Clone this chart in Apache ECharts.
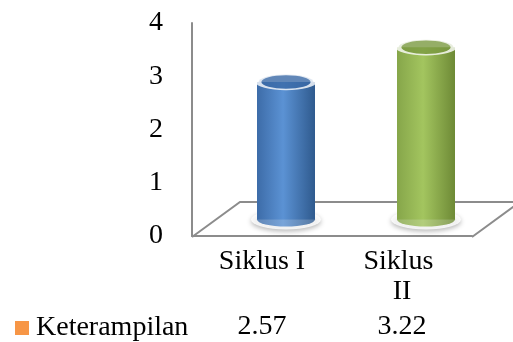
<!DOCTYPE html>
<html>
<head>
<meta charset="utf-8">
<script src="https://cdn.jsdelivr.net/npm/echarts@6/dist/echarts.min.js"></script>
<style>
  html, body { margin: 0; padding: 0; background: #fff; }
  #chart { width: 513px; height: 342px; }
</style>
</head>
<body>
<div id="chart"></div>
<script>
const categories = ["Siklus I", "Siklus II"];
const seriesName = "Keterampilan";
const values = [2.57, 3.22];
const yTicks = [0, 1, 2, 3, 4];

// colours per cylinder: [edge, light, dark edge, top cap]
const barColors = [
  ["#3d6ca8", "#5b92d4", "#2f5a8e", "#3a69a6"],
  ["#86a64a", "#a3c55f", "#6e8a36", "#7b9a41"],
];

const FONT = "Liberation Serif";
const front = { left: 192, right: 41, top: 23, bottom: 105 };
const depth = [48, -35];
const W = 513, H = 342;

const chart = echarts.init(document.getElementById("chart"));

const bodyGradient = (c) =>
  new echarts.graphic.LinearGradient(0, 0, 1, 0, [
    { offset: 0, color: c[0] },
    { offset: 0.45, color: c[1] },
    { offset: 1, color: c[2] },
  ]);

// floor outline (back + sides), front edge is the x axis line
const fl = front.left, fr = W - front.right, fy = H - front.bottom;
const floorLines = {
  type: "polyline",
  z: 0,
  shape: {
    points: [
      [fl, fy],
      [fl + depth[0], fy + depth[1]],
      [fr + depth[0], fy + depth[1]],
      [fr, fy],
    ],
  },
  style: { stroke: "#8c8c8c", lineWidth: 2, fill: null },
};

chart.setOption({
  animation: false,
  legend: {
    data: [seriesName],
    left: 15,
    top: 314,
    padding: 0,
    icon: "rect",
    itemWidth: 14,
    itemHeight: 14,
    textStyle: { fontFamily: FONT, fontSize: 28, color: "#000", padding: [0, 0, 0, 2] },
  },
  grid: [
    { left: front.left, right: front.right, top: front.top, bottom: front.bottom },
    {
      left: front.left + depth[0] / 2,
      right: front.right - depth[0] / 2,
      top: front.top + depth[1] / 2,
      bottom: front.bottom - depth[1] / 2,
    },
  ],
  xAxis: [
    {
      type: "category",
      gridIndex: 0,
      data: categories,
      axisLine: { lineStyle: { color: "#8c8c8c", width: 2 } },
      axisTick: { show: false },
      axisLabel: {
        fontFamily: FONT,
        fontSize: 28,
        color: "#000",
        margin: 11,
        lineHeight: 30,
        width: 90,
        overflow: "break",
      },
    },
    {
      type: "category",
      gridIndex: 0,
      data: categories,
      position: "bottom",
      axisLine: { show: false },
      axisTick: { show: false },
      axisLabel: {
        fontFamily: FONT,
        fontSize: 28,
        color: "#000",
        margin: 76,
        lineHeight: 30,
        formatter: (v, i) => values[i].toFixed(2),
      },
    },
    { type: "category", gridIndex: 1, data: categories, show: false },
  ],
  yAxis: [
    {
      type: "value",
      gridIndex: 0,
      min: yTicks[0],
      max: yTicks[yTicks.length - 1],
      interval: 1,
      axisLine: { show: true, lineStyle: { color: "#8c8c8c", width: 2 } },
      axisTick: { show: false },
      splitLine: { show: false },
      axisLabel: { fontFamily: FONT, fontSize: 28, color: "#000", margin: 29 },
    },
    {
      type: "value",
      gridIndex: 1,
      min: yTicks[0],
      max: yTicks[yTicks.length - 1],
      interval: 1,
      show: false,
      splitLine: { show: false },
    },
  ],
  series: [
    {
      name: "bottom-glow",
      type: "scatter",
      xAxisIndex: 2,
      yAxisIndex: 1,
      silent: true,
      z: 1,
      symbol: "circle",
      symbolSize: [70, 20],
      data: values.map((v, i) => [i, 0]),
      itemStyle: {
        color: "#ffffff",
        shadowBlur: 5,
        shadowColor: "rgba(0,0,0,0.35)",
        shadowOffsetY: 2,
      },
    },
    {
      name: "bottom-cap",
      type: "scatter",
      xAxisIndex: 2,
      yAxisIndex: 1,
      silent: true,
      z: 2,
      symbol: "circle",
      symbolSize: [58, 14],
      data: values.map((v, i) => ({
        value: [i, 0],
        itemStyle: { color: bodyGradient(barColors[i]) },
      })),
    },
    {
      name: seriesName,
      type: "bar",
      xAxisIndex: 2,
      yAxisIndex: 1,
      z: 3,
      barWidth: 58,
      itemStyle: { color: "#F79646" },
      data: values.map((v, i) => ({
        value: v,
        itemStyle: { color: bodyGradient(barColors[i]) },
      })),
    },
    {
      name: "top-cap",
      type: "scatter",
      xAxisIndex: 2,
      yAxisIndex: 1,
      silent: true,
      z: 4,
      symbol: "circle",
      symbolSize: [55, 15],
      data: values.map((v, i) => ({
        value: [i, v],
        itemStyle: { color: barColors[i][3], borderColor: "#ffffff", borderWidth: 3 },
      })),
    },
  ],
  graphic: [floorLines],
});
</script>
</body>
</html>
